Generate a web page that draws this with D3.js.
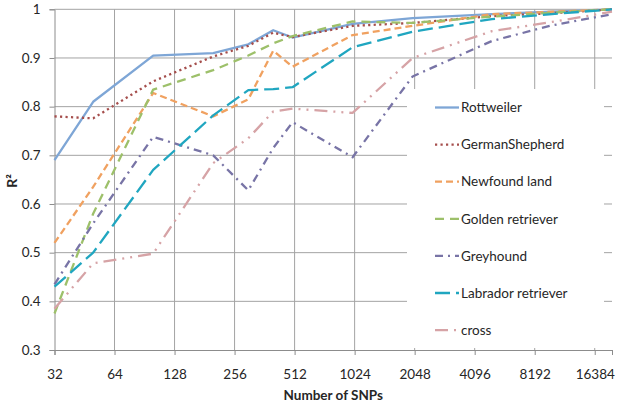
<!DOCTYPE html>
<html><head><meta charset="utf-8">
<script src="https://cdn.jsdelivr.net/npm/d3@7"></script>
<style>
html,body{margin:0;padding:0;background:#fff;}
svg{display:block;font-family:Lato,"Open Sans",sans-serif;}
</style></head>
<body>
<svg id="chart" width="622" height="405"></svg>
<script>
const snps = [32, 50, 100, 200, 300, 400, 500, 1000, 2000, 5000, 10000, 20000];
const xTicks = [32, 64, 128, 256, 512, 1024, 2048, 4096, 8192, 16384];
const yTicks = [0.3, 0.4, 0.5, 0.6, 0.7, 0.8, 0.9, 1];
const seriesNames = ["Rottweiler", "GermanShepherd", "Newfound land", "Golden retriever", "Greyhound", "Labrador retriever", "cross"];
const rottweiler      = [0.69, 0.81, 0.905, 0.91, 0.928, 0.957, 0.942, 0.97, 0.982, 0.99, 0.995, 1.0];
const germanShepherd  = [0.78, 0.776, 0.852, 0.903, 0.925, 0.952, 0.943, 0.966, 0.972, 0.986, 0.992, 1.0];
const newfoundland    = [0.52, 0.635, 0.828, 0.78, 0.815, 0.915, 0.882, 0.947, 0.966, 0.99, 0.995, 1.0];
const goldenRetriever = [0.375, 0.58, 0.835, 0.875, 0.905, 0.93, 0.945, 0.975, 0.972, 0.985, 0.993, 1.0];
const greyhound       = [0.435, 0.56, 0.738, 0.70, 0.628, 0.715, 0.768, 0.696, 0.862, 0.935, 0.967, 0.99];
const labrador        = [0.43, 0.50, 0.67, 0.782, 0.834, 0.836, 0.84, 0.922, 0.954, 0.98, 0.99, 1.0];
const cross           = [0.385, 0.478, 0.498, 0.684, 0.735, 0.79, 0.796, 0.787, 0.90, 0.955, 0.974, 0.995];
const seriesValues = [rottweiler, germanShepherd, newfoundland, goldenRetriever, greyhound, labrador, cross];
const colors = ["#7ea6d6", "#a54e4c", "#f0a160", "#9dc06a", "#7874a6", "#20a6c0", "#d6a3a6"];
const dashes = ["none", "2.2,3.3", "7,4", "9,6", "8,5,2,5", "15,6", "13,6,2,6,2,6"];

const svg = d3.select("#chart");
const L = 54.5, R = 612, T = 9.3, B = 350;
const x = d3.scaleLog().base(2).domain([32, 20000]).range([L, R]);
const y = d3.scaleLinear().domain([0.3, 1]).range([B, T]);

// gridlines
svg.append("g").selectAll("line.h").data(yTicks.filter(d => d > 0.3)).join("line")
  .attr("x1", L).attr("x2", R).attr("y1", d => y(d)).attr("y2", d => y(d))
  .attr("stroke", "#a3a3a3").attr("stroke-width", 1);
svg.append("g").selectAll("line.v").data(xTicks.slice(1)).join("line")
  .attr("x1", d => x(d)).attr("x2", d => x(d)).attr("y1", T).attr("y2", B)
  .attr("stroke", "#a3a3a3").attr("stroke-width", 1);

// axes
const yAxis = d3.axisLeft(y).tickValues(yTicks).tickFormat(d3.format("")).tickSize(5).tickPadding(9);
const gy = svg.append("g").attr("transform", `translate(${L},0)`).call(yAxis);
const xAxis = d3.axisBottom(x).tickValues(xTicks.concat([20000])).tickFormat(d => d === 20000 ? "" : d).tickSize(5).tickPadding(14);
const gx = svg.append("g").attr("transform", `translate(0,${B})`).call(xAxis);
[gx, gy].forEach(g => {
  g.select(".domain").attr("stroke", "#8c8c8c");
  g.selectAll(".tick line").attr("stroke", "#8c8c8c");
  g.selectAll("text").attr("fill", "#262626").style("font-size", "13.5px").style("font-family", "Lato, sans-serif");
});

// lines
const line = d3.line().x((d, i) => x(snps[i])).y(d => y(d));
seriesValues.forEach((vals, k) => {
  svg.append("path").datum(vals).attr("d", line)
    .attr("fill", "none").attr("stroke", colors[k]).attr("stroke-width", 2.3)
    .attr("stroke-dasharray", dashes[k]).attr("stroke-linejoin", "round");
});

// legend
svg.append("rect").attr("x", 407).attr("y", 89).attr("width", 197).attr("height", 259).attr("fill", "#fff");
const lg = svg.append("g").selectAll("g").data(seriesNames).join("g")
  .attr("transform", (d, i) => `translate(435,${107.5 + i * 37.1})`);
lg.append("line").attr("x1", 0).attr("x2", 24).attr("y1", 0).attr("y2", 0)
  .attr("stroke", (d, i) => colors[i]).attr("stroke-width", 2.3)
  .attr("stroke-dasharray", (d, i) => dashes[i]);
lg.append("text").attr("x", 26).attr("y", 0).attr("dy", "0.35em").text(d => d)
  .attr("fill", "#262626").style("font-size", "13.5px");

// axis titles
svg.append("text").attr("x", (L + R) / 2).attr("y", 400).attr("text-anchor", "middle")
  .style("font-size", "13.5px").style("font-weight", "bold").attr("fill", "#262626").text("Number of SNPs");
svg.append("text").attr("transform", "translate(17,181) rotate(-90)").attr("text-anchor", "middle")
  .style("font-size", "14px").style("font-weight", "bold").attr("fill", "#262626").text("R²");
</script>
</body></html>
